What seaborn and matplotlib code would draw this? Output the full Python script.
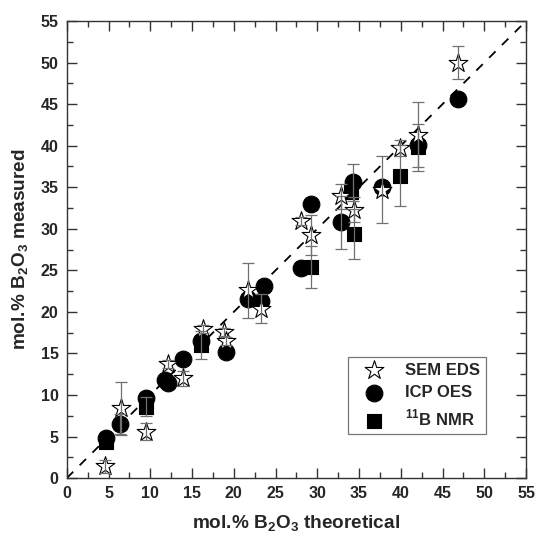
import numpy as np
import pandas as pd
import matplotlib
matplotlib.use("Agg")
import matplotlib.pyplot as plt
import seaborn as sns
from matplotlib.ticker import MultipleLocator

# ---------------- data ----------------
sem_x = [4.6, 6.5, 9.5, 12.1, 13.9, 16.3, 18.8, 19.1, 21.7, 23.2, 28.0, 29.3, 32.8, 34.4, 37.8, 39.9, 42.0, 46.9]
sem_y = [1.4, 8.4, 5.6, 13.7, 12.0, 17.9, 17.6, 16.5, 22.6, 20.4, 30.9, 29.3, 33.9, 32.3, 34.7, 39.7, 41.3, 50.0]
sem_e = [0.8, 3.2, 1.0, 0.5, 0.9, 0.5, 0.5, 0.5, 3.3, 1.7, 0.5, 2.4, 1.5, 1.5, 4.0, 1.0, 3.9, 2.0]

icp_x = [4.7, 6.4, 9.5, 11.7, 12.1, 13.9, 16.1, 19.1, 21.7, 23.3, 23.6, 28.0, 29.3, 32.8, 34.3, 37.8, 42.0, 46.9]
icp_y = [4.8, 6.5, 9.6, 11.8, 11.5, 14.3, 16.5, 15.2, 21.5, 21.3, 23.1, 25.3, 33.0, 30.8, 35.6, 35.0, 40.1, 45.6]
icp_e = [0.0, 1.2, 0.0, 0.0, 0.0, 0.0, 0.0, 0.0, 0.0, 0.0, 0.0, 0.0, 0.0, 3.2, 2.2, 0.0, 0.0, 0.0]

nmr_x = [4.7, 9.5, 16.1, 29.3, 34.0, 34.4, 39.9, 42.0]
nmr_y = [4.3, 8.6, 16.0, 25.4, 34.4, 29.4, 36.4, 39.8]
nmr_e = [0.0, 1.1, 1.7, 2.5, 0.0, 3.0, 3.7, 2.8]

labels = ["SEM EDS", "ICP OES", r"$^{\mathbf{11}}$B NMR"]
ticks = list(range(0, 60, 5))

# ---------------- figure ----------------
sns.set_theme(style="ticks")
plt.rcParams["font.family"] = ["Liberation Sans", "DejaVu Sans"]
plt.rcParams["mathtext.fontset"] = "custom"
plt.rcParams["mathtext.rm"] = "Liberation Sans:bold"
plt.rcParams["mathtext.bf"] = "Liberation Sans:bold"

fig = plt.figure(figsize=(5.39, 5.39), dpi=100)
ax = fig.add_axes([0.124, 0.113, 0.852, 0.848])

# reference line
ax.plot([0, 55], [0, 55], ls=(0, (5, 5)), color="black", lw=1.3, zorder=1)

sem = pd.DataFrame({"x": sem_x, "y": sem_y, "e": sem_e})
icp = pd.DataFrame({"x": icp_x, "y": icp_y, "e": icp_e})
nmr = pd.DataFrame({"x": nmr_x, "y": nmr_y, "e": nmr_e})

sns.scatterplot(data=nmr, x="x", y="y", marker="s", s=90, color="black",
                edgecolor="black", linewidth=0.8, ax=ax, label=labels[2], zorder=3)
sns.scatterplot(data=icp, x="x", y="y", marker="o", s=145, color="black",
                edgecolor="black", linewidth=0.8, ax=ax, label=labels[1], zorder=3)
sns.scatterplot(data=sem, x="x", y="y", marker="*", s=200, color="white",
                edgecolor="black", linewidth=0.8, ax=ax, label=labels[0], zorder=4)

for df in (sem, icp, nmr):
    d = df[df["e"] > 0]
    ax.errorbar(d["x"], d["y"], yerr=d["e"], fmt="none", ecolor="#707070",
                elinewidth=0.9, capsize=4, capthick=0.9, zorder=5)

ax.set_xlim(0, 55)
ax.set_ylim(0, 55)
ax.set_xticks(ticks)
ax.set_yticks(ticks)
ax.xaxis.set_minor_locator(MultipleLocator(2.5))
ax.yaxis.set_minor_locator(MultipleLocator(2.5))
ax.tick_params(which="both", direction="in", top=True, right=True, width=1.0, color="#333333")
ax.tick_params(which="major", length=7, labelsize=11.5, pad=6)
ax.tick_params(which="minor", length=4)
for lab in ax.get_xticklabels() + ax.get_yticklabels():
    lab.set_fontweight("bold")
for sp in ax.spines.values():
    sp.set_linewidth(1.0)
    sp.set_color("#333333")

ax.set_xlabel(r"mol.% B$_{\mathbf{2}}$O$_{\mathbf{3}}$ theoretical", fontsize=13.7, fontweight="bold", labelpad=9)
ax.set_ylabel(r"mol.% B$_{\mathbf{2}}$O$_{\mathbf{3}}$ measured", fontsize=13.7, fontweight="bold", labelpad=7)

h, l = ax.get_legend_handles_labels()
order = [l.index(x) for x in labels]
leg = ax.legend([h[i] for i in order], [l[i] for i in order],
                loc="lower right", bbox_to_anchor=(0.913, 0.096),
                frameon=True, fancybox=False, edgecolor="#555555",
                prop={"weight": "bold", "size": 12}, handletextpad=0.7,
                borderpad=0.35, labelspacing=0.45, handlelength=2.4,
                borderaxespad=0.0)
leg.get_frame().set_linewidth(0.9)

fig.savefig("out.png", dpi=100)
